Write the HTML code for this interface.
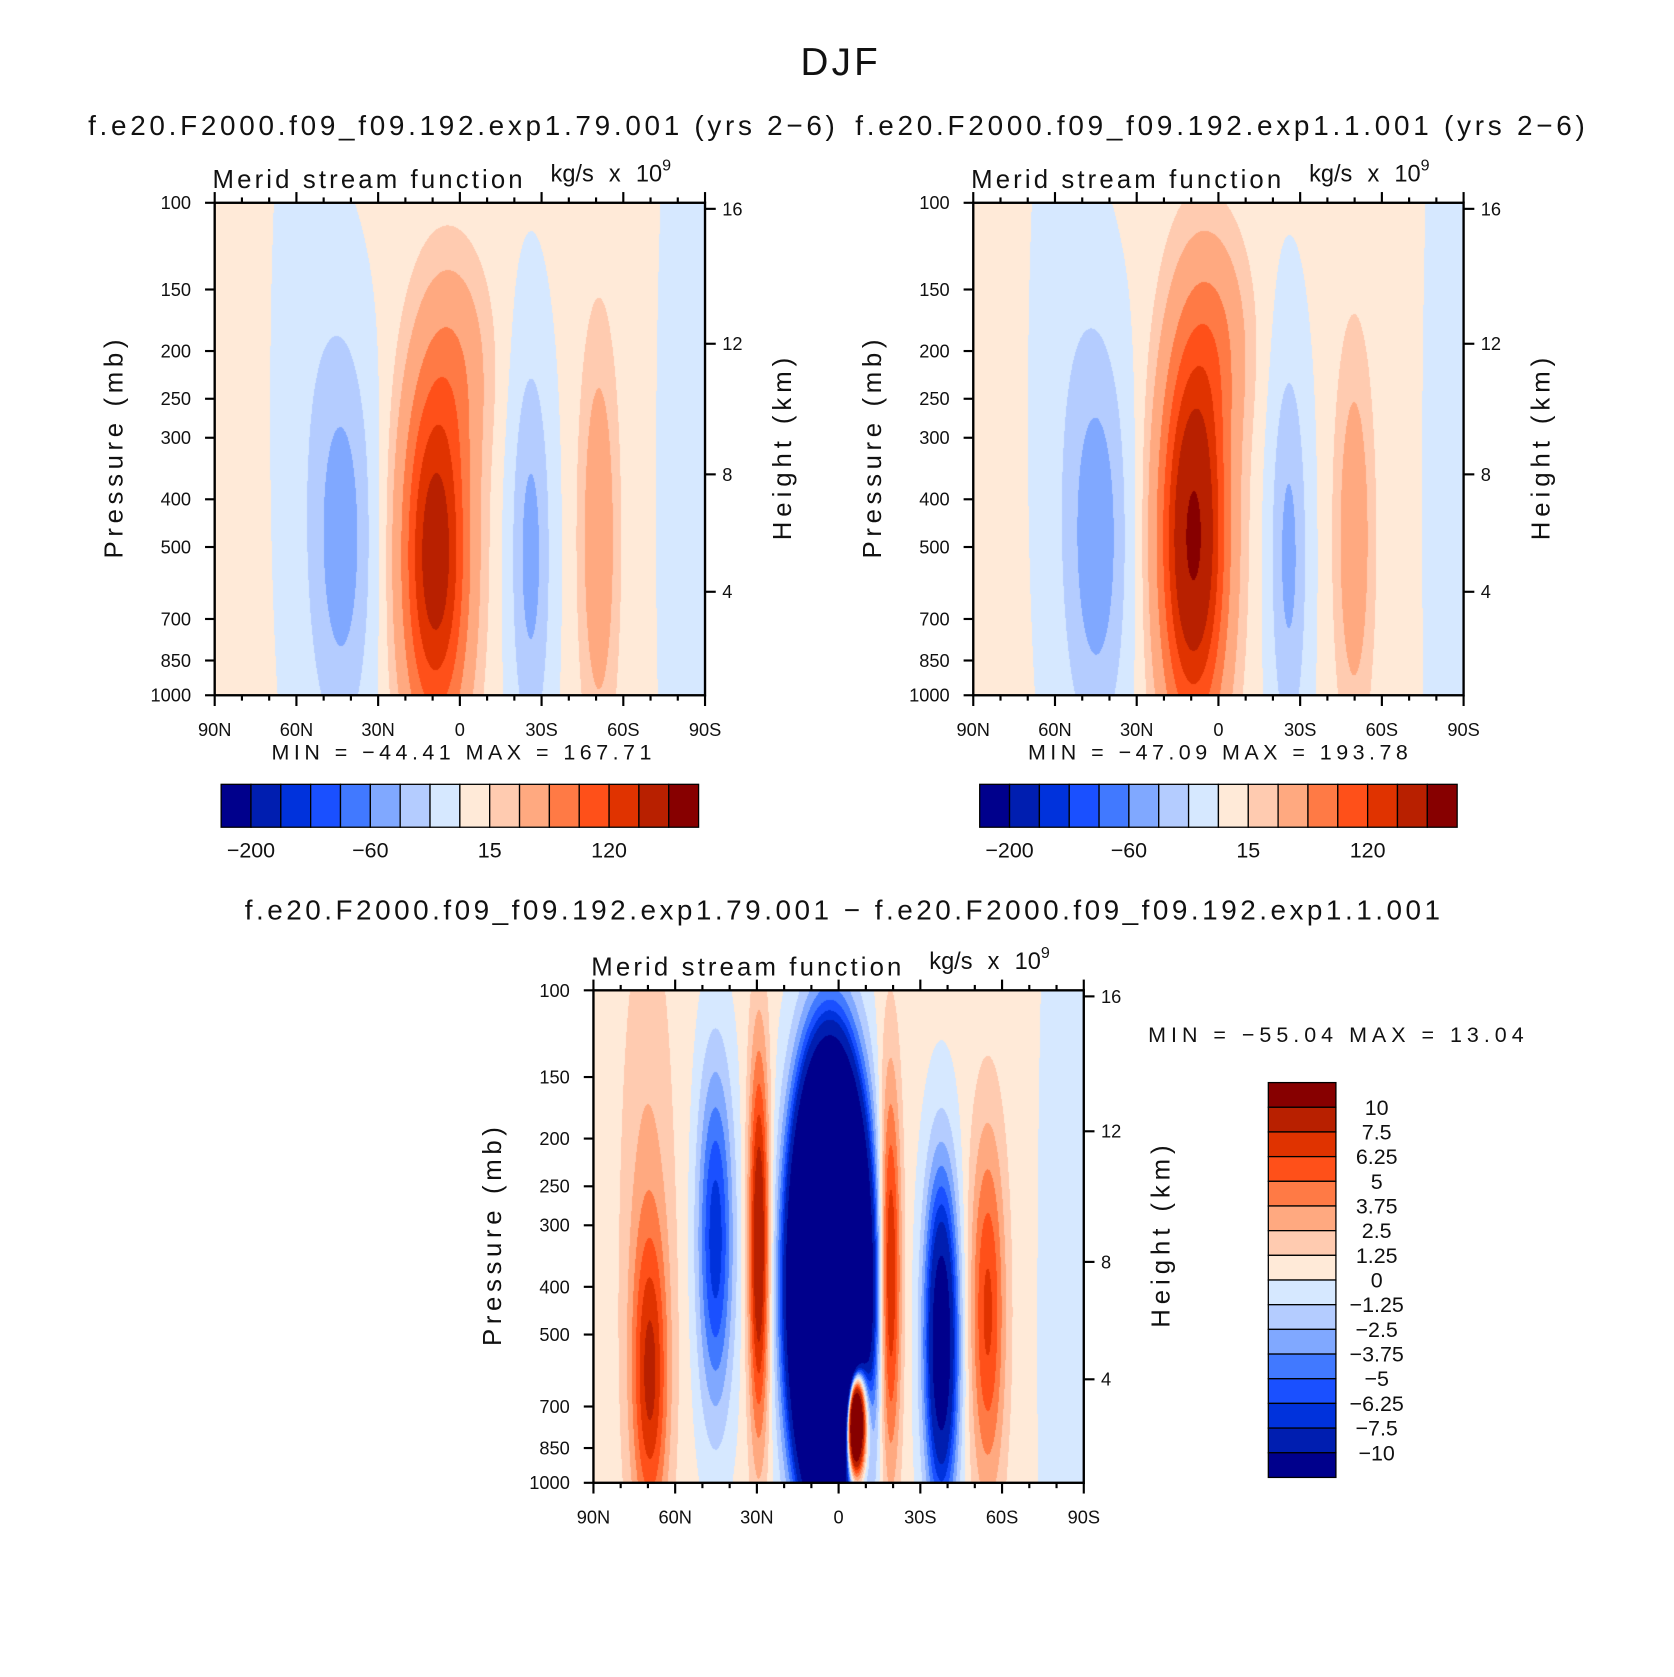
<!DOCTYPE html>
<html><head><meta charset="utf-8"><style>
html,body{margin:0;padding:0;background:#fff;}
#wrap{position:relative;width:1674px;height:1677px;overflow:hidden;}
svg{position:absolute;left:0;top:0;}
canvas{position:absolute;}
text{font-family:"Liberation Sans",sans-serif;fill:#111;}
</style></head><body>
<div id="wrap">
<canvas id="c1"></canvas>
<canvas id="c2"></canvas>
<canvas id="c3"></canvas>
<svg id="svg" width="1674" height="1677" viewBox="0 0 1560 1563">
<text x="746" y="70" font-size="36" textLength="72" lengthAdjust="spacing">DJF</text>
<text x="82" y="126" font-size="26" textLength="696" lengthAdjust="spacing">f.e20.F2000.f09_f09.192.exp1.79.001 (yrs 2−6)</text>
<text x="797" y="126" font-size="26" textLength="680" lengthAdjust="spacing">f.e20.F2000.f09_f09.192.exp1.1.001 (yrs 2−6)</text>
<text x="228" y="857" font-size="26" textLength="1114" lengthAdjust="spacing">f.e20.F2000.f09_f09.192.exp1.79.001 − f.e20.F2000.f09_f09.192.exp1.1.001</text>
<text x="1070" y="971" font-size="20" textLength="350" lengthAdjust="spacing">MIN = −55.04   MAX =  13.04</text>
<g id="axes"></g>
</svg>
</div>
<script>
const S = 1674/1560;
const levelsAbs = [-200,-150,-100,-80,-60,-40,-20,0,15,30,60,90,120,150,200];
const levelsDiff = [-10,-7.5,-6.25,-5,-3.75,-2.5,-1.25,0,1.25,2.5,3.75,5,6.25,7.5,10];
const absTickLabels = ['-200','-60','15','120'];
const absTickIdx = [0,4,8,12];
const diffTickLabels = ['−10','−7.5','−6.25','−5','−3.75','−2.5','−1.25','0','1.25','2.5','3.75','5','6.25','7.5','10'];
const palette = ['#00008c','#001eb0','#0032dc','#1a50ff','#4179ff','#80a8ff','#b4ccff','#d6e8ff','#ffead8','#ffcbb0','#ffa980','#ff7a45','#ff5019','#e03300','#b82000','#870000'];
const pTicks = [100,150,200,250,300,400,500,700,850,1000];
const latTicks = [90,60,30,0,-30,-60,-90];
const latLabels = ['90N','60N','30N','0','30S','60S','90S'];
const hTicks = [4,8,12,16];
// blob columns: lat, pressure, amplitude, lat width, lnp width
const p1Lat = [9,   0,  43, -26, -51,  57, -82,   0];
const p1P   = [520, 210,480, 520, 480, 250, 400, 500];
const p1A   = [172, 32, -55, -52, 45, -12, -8,  4];
const p1WL  = [12,  12, 11,  7.5, 7,  12,  12, 1000];
const p1WP  = [0.85,0.5,0.95, 0.95,0.95, 2, 3, 1000];
const p2Lat = [9,   0,  44, -26, -50,  57, -84,   0];
const p2P   = [480, 190,480, 520, 480, 250, 400, 500];
const p2A   = [205, 40, -57, -50, 43, -12, -9,  4];
const p2WL  = [12,  12, 11,  7, 7,  12,  10, 1000];
const p2WP  = [0.9, 0.5,0.95, 0.95,0.9, 2, 3, 1000];
const p3Lat = [3,  -6,  29,  45,  69,  70, -19, -38, -55, -85, 0];
const p3P   = [400, 730,330, 320, 620, 300, 380, 520, 450, 500, 500];
const p3A   = [-90, 45, 9.5, -7.5, 6.0, 2.2, 8.5, -14, 6.2, -1.6, 0.4];
const p3WL  = [11,  4,  3.8, 6.5, 6.5, 10,  4,   6,   6.5, 10, 1000];
const p3WP  = [0.8, 0.28,0.9,0.8, 0.7, 1.5, 0.9, 0.75, 0.85, 3, 1000];

const panels = [
 {id:'c1',x:200,y:189,w:457,h:459,lat:p1Lat,p:p1P,a:p1A,wl:p1WL,wp:p1WP,lev:levelsAbs,name:'panel1'},
 {id:'c2',x:907,y:189,w:457,h:459,lat:p2Lat,p:p2P,a:p2A,wl:p2WL,wp:p2WP,lev:levelsAbs,name:'panel2'},
 {id:'c3',x:553,y:923,w:457,h:459,lat:p3Lat,p:p3P,a:p3A,wl:p3WL,wp:p3WP,lev:levelsDiff,name:'diff'}
];
function yOfP(pn,p){return pn.y+Math.log(p/100)/Math.log(10)*pn.h;}
function xOfLat(pn,lat){return pn.x+(90-lat)/180*pn.w;}
function pOfH(km){const z=km*1000;return z<11000?1013.25*Math.pow(1-2.25577e-5*z,5.25588):226.32*Math.exp(-(z-11000)/6341.6);}
function field(pn,lat,p){let v=0;const lp=Math.log(p);for(let i=0;i<pn.lat.length;i++){const dl=(lat-pn.lat[i])/pn.wl[i];const dp=(lp-Math.log(pn.p[i]))/pn.wp[i];v+=pn.a[i]*Math.exp(-dl*dl-dp*dp);}return v;}
function hex(c){return [parseInt(c.substr(1,2),16),parseInt(c.substr(3,2),16),parseInt(c.substr(5,2),16)];}
const palRGB=palette.map(hex);
panels.forEach(pn=>{
  const cv=document.getElementById(pn.id);
  const W=Math.round(pn.w*S),H=Math.round(pn.h*S);
  cv.width=W;cv.height=H;cv.style.left=(pn.x*S)+'px';cv.style.top=(pn.y*S)+'px';
  cv.style.width=W+'px';cv.style.height=H+'px';
  const ctx=cv.getContext('2d');const img=ctx.createImageData(W,H);
  for(let j=0;j<H;j++){const p=100*Math.pow(10,(j+0.5)/H);
    for(let i=0;i<W;i++){const lat=90-(i+0.5)/W*180;const v=field(pn,lat,p);
      let k=0;while(k<pn.lev.length&&v>=pn.lev[k])k++;
      const c=palRGB[k];const o=(j*W+i)*4;img.data[o]=c[0];img.data[o+1]=c[1];img.data[o+2]=c[2];img.data[o+3]=255;}}
  ctx.putImageData(img,0,0);
});
const NS='http://www.w3.org/2000/svg';
const g=document.getElementById('axes');
function mk(tag,attrs,txt,name,parent){const e=document.createElementNS(NS,tag);for(const k in attrs)e.setAttribute(k,attrs[k]);if(txt!==undefined)e.textContent=txt;
  
  
  (parent||g).appendChild(e);return e;}
function line(x1,y1,x2,y2,w,name){return mk('line',{x1,y1,x2,y2,stroke:'#000','stroke-width':w},undefined,name);}
panels.forEach(pn=>{
  const R=pn.x+pn.w,B=pn.y+pn.h;
  mk('rect',{x:pn.x,y:pn.y,width:pn.w,height:pn.h,fill:'none',stroke:'#000','stroke-width':2.2},undefined,pn.name+'-frame');
  pTicks.forEach(p=>{const y=yOfP(pn,p);line(pn.x-9,y,pn.x,y,2,pn.name+'-pressure-tick');
    mk('text',{x:pn.x-22,y:y+6,'font-size':17,'text-anchor':'end'},String(p),pn.name+'-pressure-label');});
  for(let lat=90;lat>=-90;lat-=10){const x=xOfLat(pn,lat);const major=lat%30===0;
    line(x,B,x,B+(major?10:5),2,pn.name+'-lat-tick');line(x,pn.y,x,pn.y-(major?10:5),2,pn.name+'-top-tick');}
  latTicks.forEach((lat,i)=>{mk('text',{x:xOfLat(pn,lat),y:B+38,'font-size':17,'text-anchor':'middle'},latLabels[i],pn.name+'-lat-label');});
  hTicks.forEach(h=>{const y=yOfP(pn,pOfH(h));line(R,y,R+10,y,2,pn.name+'-height-tick');
    mk('text',{x:R+16,y:y+6,'font-size':17},String(h),pn.name+'-height-label');});
  mk('text',{x:pn.x-2,y:pn.y-14,'font-size':24,textLength:289,lengthAdjust:'spacing'},'Merid stream function',pn.name+'-field-label');
  const u=mk('text',{x:pn.x+313,y:pn.y-20,'font-size':22,'word-spacing':'8'},'kg/s x 10',pn.name+'-units-label');
  mk('tspan',{dy:-10,'font-size':15},'9',pn.name+'-units-exponent',u);
  mk('text',{x:pn.x-86,y:pn.y+pn.h/2,'font-size':24,'text-anchor':'middle',textLength:204,lengthAdjust:'spacing',transform:'rotate(-90 '+(pn.x-86)+' '+(pn.y+pn.h/2)+')'},'Pressure (mb)',pn.name+'-y-axis-title');
  mk('text',{x:R+80,y:pn.y+pn.h/2,'font-size':24,'text-anchor':'middle',textLength:170,lengthAdjust:'spacing',transform:'rotate(-90 '+(R+80)+' '+(pn.y+pn.h/2)+')'},'Height (km)',pn.name+'-y2-axis-title');
});
mk('text',{x:253,y:708,'font-size':20,textLength:354,lengthAdjust:'spacing'},'MIN = −44.41   MAX = 167.71','panel1-min-max');
mk('text',{x:958,y:708,'font-size':20,textLength:354,lengthAdjust:'spacing'},'MIN = −47.09   MAX = 193.78','panel2-min-max');
[206,913].forEach((x0,bi)=>{const bw=445/16;
  palette.forEach((c,i)=>mk('rect',{x:x0+i*bw,y:731,width:bw,height:40,fill:c,stroke:'#000','stroke-width':1.2},undefined,'colorbar'+(bi+1)+'-box'));
  absTickIdx.forEach((k,i)=>mk('text',{x:x0+(k+1)*bw,y:799,'font-size':20,'text-anchor':'middle'},absTickLabels[i].replace('-','−'),'colorbar'+(bi+1)+'-label'));
});
{const bh=368/16;
 for(let i=0;i<16;i++){mk('rect',{x:1182,y:1009+i*bh,width:63,height:bh,fill:palette[15-i],stroke:'#000','stroke-width':1.2},undefined,'diff-colorbar-box');}
 for(let k=0;k<15;k++){mk('text',{x:1283,y:1009+(k+1)*bh+7,'font-size':20,'text-anchor':'middle'},diffTickLabels[14-k],'diff-colorbar-label');}
}
</script>
</body></html>
